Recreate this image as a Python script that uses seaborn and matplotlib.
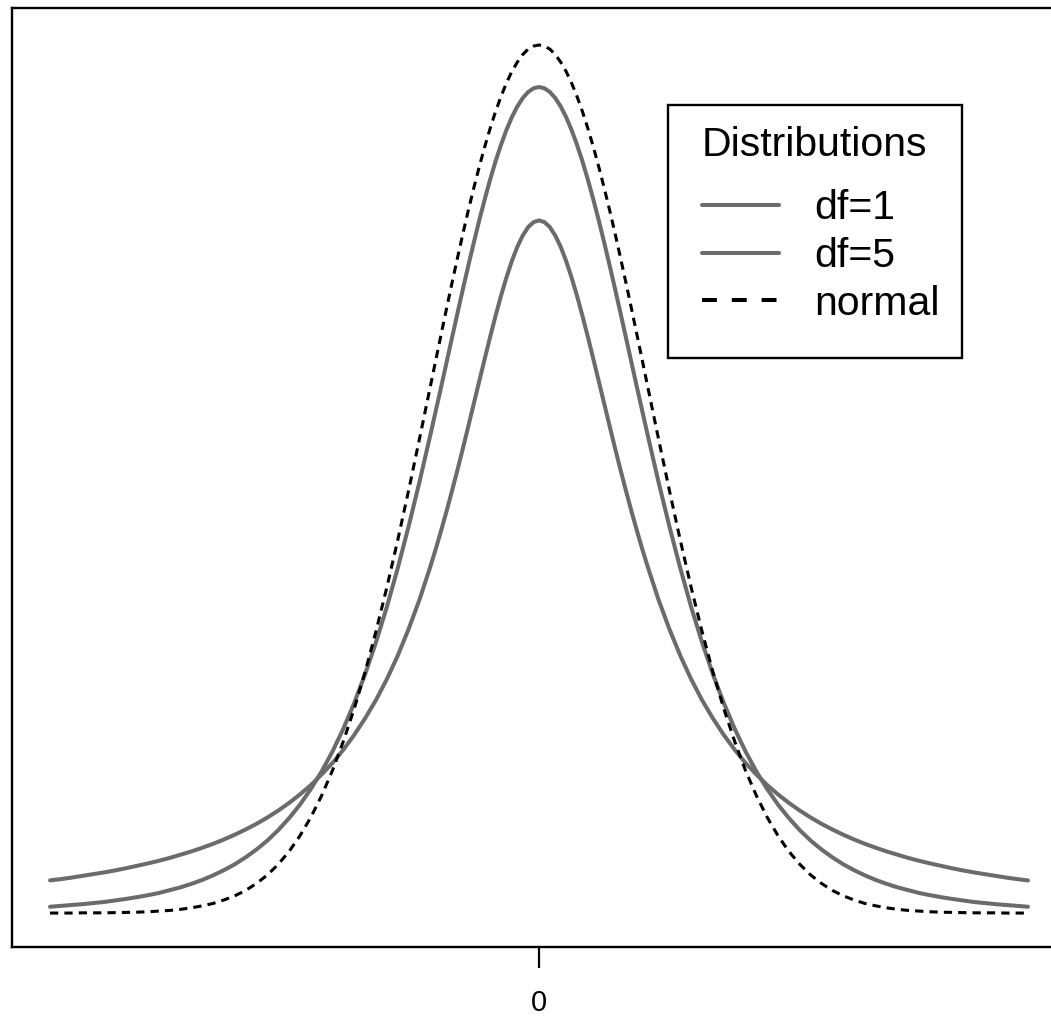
import matplotlib
matplotlib.use("Agg")
import matplotlib.pyplot as plt
from matplotlib.lines import Line2D
from matplotlib.patches import Rectangle
import pandas as pd
import seaborn as sns

# Density values for x >= 0 (the curves are symmetric about 0)
half_x = [0.0, 0.05, 0.1, 0.15, 0.2, 0.25, 0.3, 0.35, 0.4, 0.45, 0.5,
          0.55, 0.6, 0.65, 0.7, 0.75, 0.8, 0.85, 0.9, 0.95, 1.0,
          1.1, 1.2, 1.3, 1.4, 1.5, 1.6, 1.7, 1.8, 1.9, 2.0,
          2.1, 2.2, 2.3, 2.4, 2.5, 2.6, 2.7, 2.8, 2.9, 3.0,
          3.1, 3.2, 3.3, 3.4, 3.5, 3.6, 3.7, 3.8, 3.9, 4.0,
          4.1, 4.2, 4.3, 4.4, 4.5]
df1_half = [0.3183, 0.3175, 0.3152, 0.3113, 0.3061, 0.2996, 0.2920, 0.2836, 0.2744, 0.2647, 0.2546,
            0.2444, 0.2341, 0.2238, 0.2136, 0.2037, 0.1941, 0.1848, 0.1759, 0.1673, 0.1592,
            0.1440, 0.1305, 0.1183, 0.1075, 0.0979, 0.0895, 0.0819, 0.0751, 0.0690, 0.0637,
            0.0588, 0.0545, 0.0506, 0.0471, 0.0439, 0.0410, 0.0384, 0.0360, 0.0338, 0.0318,
            0.0300, 0.0283, 0.0268, 0.0253, 0.0240, 0.0228, 0.0217, 0.0206, 0.0196, 0.0187,
            0.0179, 0.0171, 0.0163, 0.0156, 0.0150]
df5_half = [0.3796, 0.3790, 0.3773, 0.3745, 0.3706, 0.3657, 0.3598, 0.3530, 0.3454, 0.3370, 0.3279,
            0.3183, 0.3081, 0.2976, 0.2868, 0.2757, 0.2645, 0.2532, 0.2419, 0.2308, 0.2197,
            0.1981, 0.1777, 0.1585, 0.1407, 0.1245, 0.1098, 0.0966, 0.0848, 0.0743, 0.0651,
            0.0570, 0.0498, 0.0436, 0.0381, 0.0333, 0.0292, 0.0256, 0.0224, 0.0197, 0.0173,
            0.0152, 0.0134, 0.0118, 0.0105, 0.0092, 0.0082, 0.0073, 0.0065, 0.0058, 0.0051,
            0.0046, 0.0041, 0.0037, 0.0033, 0.0029]
normal_half = [0.3989, 0.3984, 0.3970, 0.3945, 0.3910, 0.3867, 0.3814, 0.3752, 0.3683, 0.3605, 0.3521,
               0.3429, 0.3332, 0.3230, 0.3123, 0.3011, 0.2897, 0.2780, 0.2661, 0.2541, 0.2420,
               0.2179, 0.1942, 0.1714, 0.1497, 0.1295, 0.1109, 0.0940, 0.0790, 0.0656, 0.0540,
               0.0440, 0.0355, 0.0283, 0.0224, 0.0175, 0.0136, 0.0104, 0.0079, 0.0060, 0.0044,
               0.0033, 0.0024, 0.0017, 0.0012, 0.0009, 0.0006, 0.0004, 0.0003, 0.0002, 0.0001,
               0.0001, 0.0001, 0.0000, 0.0000, 0.0000]

labels = ["df=1", "df=5", "normal"]


def mirror(vals):
    return list(reversed(vals[1:])) + list(vals)


x_full = [-v for v in reversed(half_x[1:])] + half_x
n = len(x_full)
df = pd.DataFrame({
    "x": x_full * 3,
    "density": mirror(df1_half) + mirror(df5_half) + mirror(normal_half),
    "dist": [labels[0]] * n + [labels[1]] * n + [labels[2]] * n,
})

sns.set_style("white")
plt.rcParams["font.family"] = ["Liberation Sans", "DejaVu Sans"]
plt.rcParams["text.color"] = "black"
plt.rcParams["xtick.color"] = "black"

fig = plt.figure(figsize=(10.51, 10.17), dpi=100)
ax = fig.add_axes([12 / 1051, 70 / 1017, 1054 / 1051, 939 / 1017])

gray = "#6b6b6b"
sns.lineplot(data=df[df.dist == "df=1"], x="x", y="density", color=gray,
             linewidth=2.9, ax=ax)
sns.lineplot(data=df[df.dist == "df=5"], x="x", y="density", color=gray,
             linewidth=2.9, ax=ax)
sns.lineplot(data=df[df.dist == "normal"], x="x", y="density", color="black",
             linewidth=2.2, linestyle=(0, (2.7, 2.0)), ax=ax)

ax.set_xlim(-4.85, 4.85)
ax.set_ylim(-0.0156, 0.4159)
ax.set_xticks([0])
ax.set_xticklabels(["0"])
ax.set_yticks([])
ax.set_xlabel("")
ax.set_ylabel("")
ax.tick_params(axis="x", length=15, width=1.6, pad=15, labelsize=21, color="black",
               labelcolor="black", bottom=True)
for sp in ax.spines.values():
    sp.set_visible(True)
    sp.set_color("black")
    sp.set_linewidth(1.7)

# legend: frame drawn separately, content placed inside it
ax.add_patch(Rectangle((0.6224, 0.6273), 0.9013 - 0.6224, 0.8967 - 0.6273,
                       transform=ax.transAxes, fill=False, edgecolor="black",
                       linewidth=1.7, zorder=5))
handles = [Line2D([], [], color=gray, linewidth=2.9),
           Line2D([], [], color=gray, linewidth=2.9),
           Line2D([], [], color="black", linewidth=2.9, linestyle=(0, (3.7, 3.7)))]
leg = ax.legend(handles=handles, labels=labels, title="Distributions", loc="upper left",
                bbox_to_anchor=(0.6546, 0.8743), borderaxespad=0, borderpad=0,
                fontsize=29.5, title_fontsize=29.5, handlelength=1.88,
                handletextpad=0.85, labelspacing=0.24, frameon=False)
leg._legend_box.align = "left"
leg._legend_box.sep = 18
leg.set_zorder(6)

fig.savefig("out.png", dpi=100)
